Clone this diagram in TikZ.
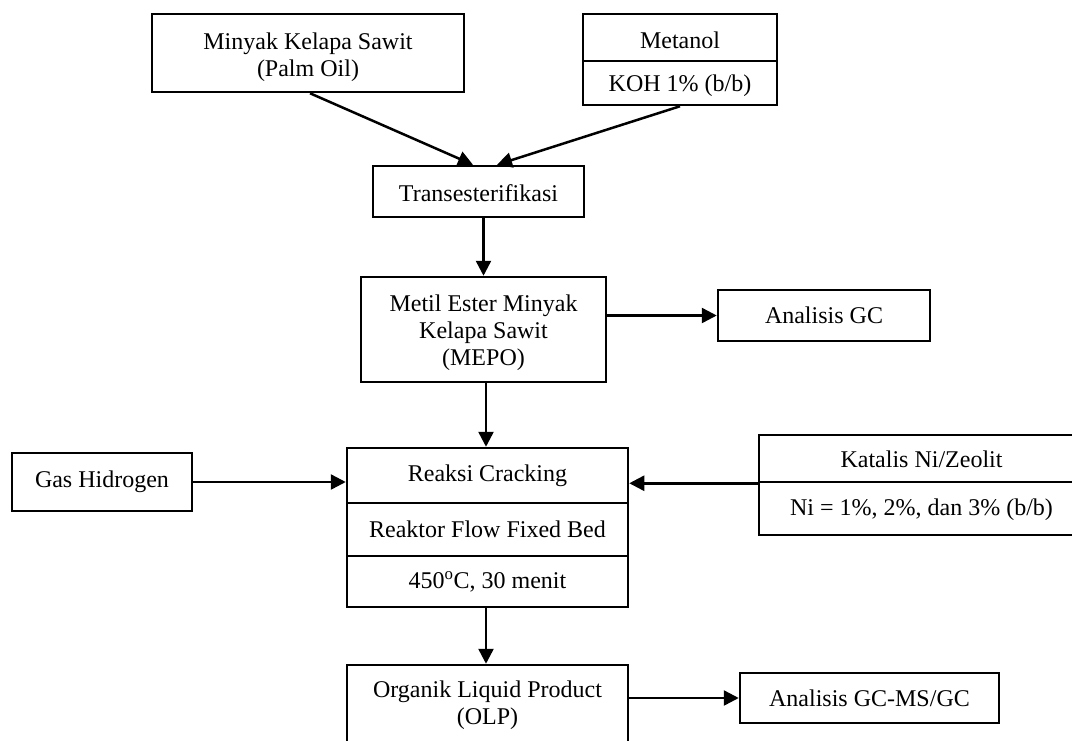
\documentclass[tikz,border=0pt]{standalone}
\usepackage{fontspec}
\setmainfont{Liberation Serif}
\usetikzlibrary{arrows.meta}
\begin{document}
\begin{tikzpicture}[x=1pt,y=-1pt,
  box/.style={draw,line width=2.5pt,inner sep=0pt,align=center,font=\fontsize{24}{27}\selectfont},
  txt/.style={inner sep=0pt,align=center,font=\fontsize{24}{27}\selectfont},
  arr/.style={line width=2.5pt,-{Triangle[length=15pt,width=15pt]}}]
\useasboundingbox (0,0) rectangle (1072,740);
\clip (0,0) rectangle (1072,740);
% top
\node[box,minimum width=312pt,minimum height=78pt] (palm) at (308,53) {};
\node[txt] (palmt) at (308,57) {Minyak Kelapa Sawit\\(Palm Oil)};
\node[box,minimum width=194pt,minimum height=47pt] (met1) at (680,37.5) {};
\node[txt] (met1t) at (680,40.5) {Metanol};
\node[box,minimum width=194pt,minimum height=44pt] (met2) at (680,83) {};
\node[txt] (met2t) at (680,86) {KOH 1\% (b/b)};
\node[box,minimum width=211pt,minimum height=51pt] (trans) at (478.5,191.5) {};
\node[txt] (transt) at (478.5,193) {Transesterifikasi};
\node[box,minimum width=245pt,minimum height=105pt] (mepo) at (483.5,329.5) {};
\node[txt] (mepot) at (483.5,333) {Metil Ester Minyak\\Kelapa Sawit\\(MEPO)};
\node[box,minimum width=212pt,minimum height=51pt] (agc) at (824,315.5) {Analisis GC};
% reaction
\node[box,minimum width=281pt,minimum height=55pt] (r1) at (487.5,475.5) {Reaksi Cracking};
\node[box,minimum width=281pt,minimum height=53pt] (r2) at (487.5,529.5) {Reaktor Flow Fixed Bed};
\node[box,minimum width=281pt,minimum height=51pt] (r3) at (487.5,581.5) {450\textsuperscript{o}C, 30 menit};
\node[box,minimum width=180pt,minimum height=58pt] (gas) at (102,482) {Gas Hidrogen};
\node[box,minimum width=331pt,minimum height=47pt] (kat1) at (924.5,458.5) {};
\node[txt] (kat1t) at (921.5,459.5) {Katalis Ni/Zeolit};
\node[box,minimum width=331pt,minimum height=53pt] (kat2) at (924.5,508.5) {};
\node[txt] (kat2t) at (921.5,509.5) {Ni = 1\%, 2\%, dan 3\% (b/b)};
% bottom
\node[box,minimum width=281pt,minimum height=125pt] (olp) at (487.5,727.5) {};
\node[txt] (olpt) at (487.5,705.5) {Organik Liquid Product\\(OLP)};
\node[box,minimum width=259pt,minimum height=50pt] (gcms) at (869.5,698) {Analisis GC-MS/GC};
% connectors
\draw[arr] ([xshift=2pt]palm.south) -- ([xshift=-5.5pt]trans.north);
\draw[arr] (met2.south) -- ([xshift=18.5pt]trans.north);
\draw[arr] (trans.south -| mepo.north) -- (mepo.north);
\draw[arr] (mepo.east |- agc.west) -- (agc.west);
\draw[arr] ([xshift=2.5pt]mepo.south) -- ([xshift=2.5pt]mepo.south |- r1.north);
\draw[arr] (gas.east) -- (gas.east -| r1.west);
\draw[arr] (kat1.south west) -- (kat1.south west -| r1.east);
\draw[arr] ([xshift=-1.5pt]r3.south) -- ([xshift=-1.5pt]olp.north);
\draw[arr] (gcms.west -| olp.east) -- (gcms.west);
\end{tikzpicture}
\end{document}
